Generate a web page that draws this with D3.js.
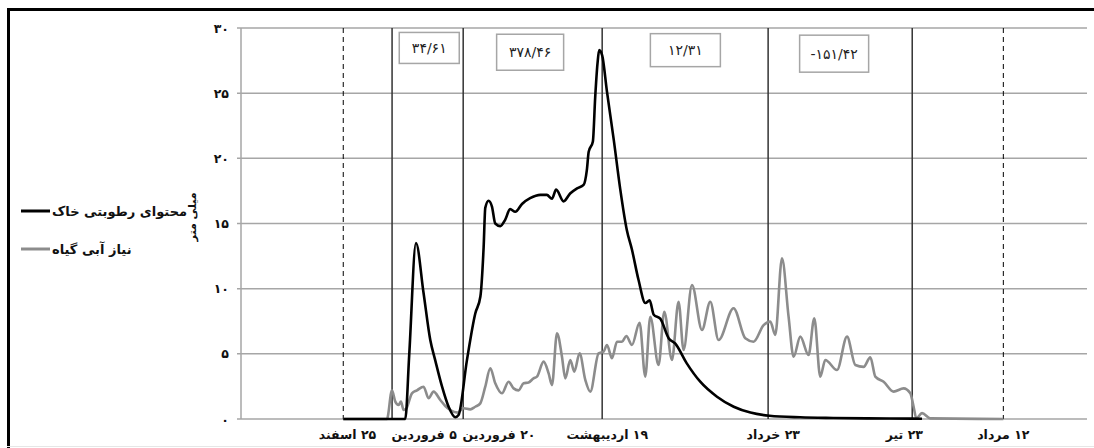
<!DOCTYPE html>
<html><head><meta charset="utf-8">
<script src="https://cdn.jsdelivr.net/npm/d3@7"></script>
<style>body{margin:0;background:#fff}svg{display:block}</style>
</head><body><svg id="c" width="1094" height="448"></svg>
<script>
// ---------- data ----------
const yTicks = [0, 5, 10, 15, 20, 25, 30];
const yTickLabels = ["۰", "۵", "۱۰", "۱۵", "۲۰", "۲۵", "۳۰"];
const dateLabels = ["۲۵ اسفند", "۵ فروردین", "۲۰ فروردین", "۱۹ اردیبهشت", "۲۳ خرداد", "۲۳ تیر", "۱۲ مرداد"];
const dateLabelDays = [0.9, 17.4, 33.5, 56.8, 92.5, 120.7, 142];
const markerDays = [0, 10.5, 25.8, 55.7, 91.4, 122.4, 142];
const markerDashed = [true, false, false, false, false, false, true];
const periodValues = ["۳۴/۶۱", "۳۷۸/۴۶", "۱۲/۳۱", "-۱۵۱/۴۲"];
const periodDays = [18.5, 40.2, 73.6, 105.6];
const periodLevels = [28.47, 28.14, 28.3, 28.03];
const seriesNames = ["محتوای رطوبتی خاک", "نیاز آبی گیاه"];
const yTitle = "میلی متر";

const soilDays = [0, 13.34, 14.2, 15.64, 17.28, 18.72, 19.79, 21.24, 22.65, 24.1, 24.8, 26.6, 28.4, 29.5, 30.2, 30.55, 31.26, 31.99, 32.7, 33.78, 34.85, 35.9, 37.0, 38.45, 40.2, 42.4, 43.8, 44.9, 45.8, 47.4, 48.8, 50.3, 51.7, 52.4, 52.8, 53.7, 54.2, 54.7, 55.05, 55.7, 56.7, 58.2, 59.6, 61.0, 62.1, 63.5, 65.0, 65.9, 66.8, 68.2, 70.0, 71.4, 73.9, 76.8, 80.4, 84.0, 87.6, 91.7, 98.3, 105.4, 112.7, 122.4, 124.5];
const soilValues = [0, 0, 5, 13.5, 9.65, 6.06, 4.5, 2.5, 0.95, 0.13, 0.3, 4.5, 8.1, 9.4, 13.2, 16.2, 16.75, 16.3, 15.0, 14.8, 15.3, 16.1, 15.9, 16.5, 16.94, 17.2, 17.2, 16.9, 17.6, 16.7, 17.3, 17.7, 17.96, 19.1, 20.5, 21.3, 24.7, 27.3, 28.3, 27.9, 25.2, 21.4, 17.6, 14.5, 13.0, 10.7, 8.9, 9.1, 8.0, 7.7, 6.2, 5.8, 4.27, 2.86, 1.71, 0.94, 0.49, 0.25, 0.13, 0.08, 0.05, 0.03, 0.02];

const needDays = [0, 9.4, 10.48, 11.19, 11.9, 12.41, 12.97, 13.55, 14.78, 15.86, 17.28, 18.35, 19.43, 20.87, 21.95, 23.02, 24.59, 25.88, 27.32, 28.4, 29.48, 30.55, 31.63, 32.7, 34.14, 35.56, 36.64, 37.72, 38.79, 39.87, 40.94, 41.67, 43.1, 44.18, 44.9, 45.98, 47.05, 47.76, 48.84, 49.7, 50.84, 52.07, 53.14, 54.93, 56.0, 56.74, 57.81, 58.89, 59.96, 60.89, 62.11, 63.75, 64.97, 66.05, 67.83, 69.06, 70.71, 72.13, 73.21, 75.02, 77.17, 78.96, 80.74, 83.97, 86.49, 88.27, 90.43, 91.87, 92.94, 94.38, 95.8, 96.88, 98.32, 100.1, 101.33, 102.62, 103.7, 106.22, 108.37, 110.16, 111.94, 113.39, 114.46, 116.25, 118.4, 120.55, 121.99, 122.7, 123.28, 124.51, 126.3, 142];
const needValues = [0, 0, 2.2, 1.33, 1.07, 1.33, 0.69, 0.8, 1.97, 2.2, 2.48, 1.59, 2.1, 1.46, 1.0, 0.69, 0.49, 0.82, 0.74, 0.94, 1.2, 2.48, 3.89, 2.74, 1.97, 2.86, 2.35, 2.2, 2.74, 2.8, 3.12, 3.25, 4.4, 3.5, 2.6, 6.58, 4.78, 3.12, 4.53, 3.63, 5.04, 3.0, 2.1, 5.04, 5.17, 5.68, 4.66, 5.93, 5.93, 6.37, 5.68, 7.39, 3.25, 7.85, 4.14, 8.23, 4.53, 9.0, 5.3, 10.28, 6.83, 9.0, 6.06, 8.5, 6.19, 5.93, 7.2, 7.47, 6.45, 12.33, 7.85, 4.78, 6.32, 4.91, 7.73, 3.25, 4.53, 3.76, 6.32, 4.14, 4.0, 4.73, 3.25, 2.86, 2.1, 2.35, 1.97, 0.94, 0.05, 0.45, 0.05, 0];

// ---------- drawing ----------
const svg = d3.select("#c");
const x = d3.scaleLinear().domain([-22, 160]).range([241, 1087]);
const y = d3.scaleLinear().domain([0, 30]).range([419, 28]);
const FONT = "'DejaVu Sans', sans-serif";

// outer frame
svg.append("line").attr("x1", 7).attr("x2", 1094).attr("y1", 9.5).attr("y2", 9.5).attr("stroke", "#000").attr("stroke-width", 3);
svg.append("line").attr("x1", 8.5).attr("x2", 8.5).attr("y1", 8).attr("y2", 448).attr("stroke", "#000").attr("stroke-width", 3);
svg.append("line").attr("x1", 7).attr("x2", 1094).attr("y1", 446.5).attr("y2", 446.5).attr("stroke", "#e6e6e6").attr("stroke-width", 1);

// horizontal grid + ticks
const gy = svg.append("g");
gy.selectAll("line.grid").data(yTicks).join("line").attr("class", "grid")
  .attr("x1", x(-22) - 4).attr("x2", x(160)).attr("y1", d => y(d)).attr("y2", d => y(d))
  .attr("stroke", "#a6a6a6").attr("stroke-width", 1.5);
svg.append("line").attr("x1", x(-22)).attr("x2", x(-22)).attr("y1", y(30)).attr("y2", y(0))
  .attr("stroke", "#a6a6a6").attr("stroke-width", 1.5);
gy.selectAll("text").data(yTicks).join("text")
  .attr("x", 229).attr("y", d => y(d) + 4.5).attr("text-anchor", "end")
  .attr("font-family", FONT).attr("font-weight", "bold").attr("font-size", 12.5).attr("fill", "#111")
  .text((d, i) => yTickLabels[i]);

// y title (rotated)
svg.append("text").attr("transform", `translate(196,${y(15.5)}) rotate(-90)`)
  .attr("text-anchor", "middle").attr("direction", "rtl")
  .attr("font-family", FONT).attr("font-weight", "bold").attr("font-size", 11).attr("fill", "#111")
  .text(yTitle);

// vertical marker lines
svg.append("g").selectAll("line").data(markerDays).join("line")
  .attr("x1", d => x(d)).attr("x2", d => x(d)).attr("y1", y(30)).attr("y2", y(0))
  .attr("stroke", (d, i) => markerDashed[i] ? "#000" : "#333")
  .attr("stroke-width", (d, i) => markerDashed[i] ? 1 : 1.5)
  .attr("stroke-dasharray", (d, i) => markerDashed[i] ? "5,4" : null);

// date labels
svg.append("g").selectAll("text").data(dateLabels).join("text")
  .attr("x", (d, i) => x(dateLabelDays[i])).attr("y", 439)
  .attr("text-anchor", "middle").attr("direction", "rtl")
  .attr("font-family", FONT).attr("font-weight", "bold").attr("font-size", 12.5).attr("fill", "#111")
  .text(d => d);

// period boxes
const boxW = [60, 67, 70, 69], boxH = [31, 36, 33, 37];
const pb = svg.append("g").selectAll("g").data(periodValues).join("g")
  .attr("transform", (d, i) => `translate(${x(periodDays[i])},${y(periodLevels[i])})`);
pb.append("rect").attr("x", (d, i) => -boxW[i] / 2).attr("y", (d, i) => -boxH[i] / 2)
  .attr("width", (d, i) => boxW[i]).attr("height", (d, i) => boxH[i])
  .attr("fill", "#fff").attr("stroke", "#a6a6a6").attr("stroke-width", 1.5);
pb.append("text").attr("y", 5).attr("text-anchor", "middle")
  .attr("font-family", FONT).attr("font-size", 14).attr("fill", "#222")
  .text(d => d);

// series
const soil = soilDays.map((d, i) => [d, soilValues[i]]);
const need = needDays.map((d, i) => [d, needValues[i]]);
const line = d3.line().x(d => x(d[0])).y(d => y(d[1])).curve(d3.curveMonotoneX);
svg.append("path").attr("d", line(need)).attr("fill", "none").attr("stroke", "#8c8c8c").attr("stroke-width", 2.6).attr("stroke-linejoin", "round");
svg.append("path").attr("d", line(soil)).attr("fill", "none").attr("stroke", "#000").attr("stroke-width", 2.6).attr("stroke-linejoin", "round");

// legend
const legColors = ["#000", "#8c8c8c"], legY = [211, 249];
const lg = svg.append("g").selectAll("g").data(seriesNames).join("g");
lg.append("line").attr("x1", 21).attr("x2", 50).attr("y1", (d, i) => legY[i]).attr("y2", (d, i) => legY[i])
  .attr("stroke", (d, i) => legColors[i]).attr("stroke-width", 3);
lg.append("text").attr("x", 52).attr("y", (d, i) => legY[i] + 5)
  .attr("direction", "rtl").attr("text-anchor", "end")
  .attr("font-family", FONT).attr("font-weight", "bold").attr("font-size", 13).attr("fill", "#111")
  .text(d => d);
</script>
</body></html>
